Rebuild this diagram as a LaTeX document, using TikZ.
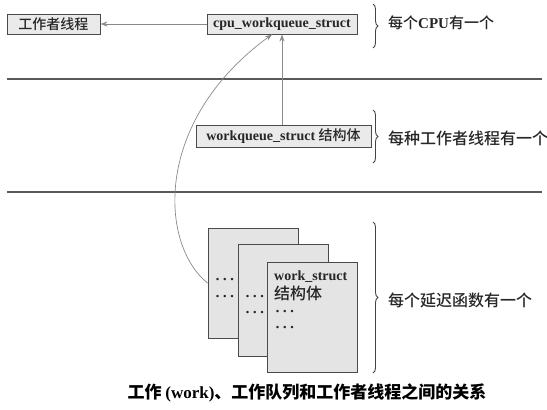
\documentclass[tikz,border=0pt]{standalone}
\usepackage{fontspec}
\setmainfont{Liberation Serif}
\newfontfamily\cjk{Noto Sans CJK SC}[BoldFont={Noto Sans CJK SC Medium}]
\newfontfamily\cjkheavy{Noto Sans CJK SC}
\usetikzlibrary{arrows.meta,decorations.pathreplacing}
\definecolor{boxfill}{HTML}{EAEAEA}
\definecolor{cardfill}{HTML}{E4E4E4}
\definecolor{boxline}{HTML}{4A4A4A}
\definecolor{conncol}{HTML}{8A8A8A}
\definecolor{sepcol}{HTML}{5A5A5A}
\definecolor{brcol}{HTML}{444444}
\definecolor{txt}{HTML}{262626}
\newcommand{\mydots}{\textperiodcentered\kern2.2pt\textperiodcentered\kern2.2pt\textperiodcentered}
\begin{document}
\begin{tikzpicture}[x=1pt,y=-1pt,
  box/.style={draw=boxline, fill=boxfill, line width=0.9pt, inner sep=0pt, text=txt,
    font=\fontsize{14}{16}\selectfont\bfseries},
  card/.style={draw=boxline, fill=cardfill, line width=0.9pt, minimum width=90pt,
    minimum height=110pt, inner sep=0pt},
  conn/.style={draw=conncol, line width=0.7pt, -{Stealth[length=7pt,width=5pt]}},
  sepline/.style={draw=sepcol, line width=1.1pt},
  brc/.style={draw=brcol, line width=0.9pt, decorate, decoration={brace, amplitude=5pt}},
  lab/.style={anchor=west, inner sep=0pt, text=txt, font=\fontsize{16}{18}\selectfont\bfseries},
  intext/.style={anchor=west, inner sep=0pt, text=txt, font=\fontsize{14}{16}\selectfont\bfseries},
  dotstext/.style={anchor=west, inner sep=0pt, text=txt, font=\fontsize{15}{16}\selectfont\bfseries},
  captext/.style={inner sep=0pt, text=black, font=\fontsize{17}{20}\selectfont\bfseries}
]
\useasboundingbox (0,0) rectangle (547,410);

% separators
\coordinate (s1a) at (7,79);  \coordinate (s1b) at (542,79);
\coordinate (s2a) at (7,192); \coordinate (s2b) at (542,192);
\draw[sepline] (s1a) -- (s1b);
\draw[sepline] (s2a) -- (s2b);

% top boxes
\node[box, minimum width=93pt, minimum height=20pt] (thr) at (53.5,24) {\cjk 工作者线程};
\node[box, minimum width=150pt, minimum height=20pt] (cpu) at (282,24) {cpu\_workqueue\_struct};
\node[box, minimum width=175pt, minimum height=22pt] (wq) at (283.5,136) {workqueue\_struct {\cjk 结构体}};

% cards
\node[card] (c1) at (253,283) {};
\node[card, minimum height=112pt] (c2) at (283,300) {};
\node[card] (c3) at (312,317) {};

\node[dotstext] (d11) at (215,281) {\mydots};
\node[dotstext] (d12) at (215,298) {\mydots};
\node[dotstext] (d21) at (245,298) {\mydots};
\node[dotstext] (d22) at (245,314) {\mydots};
\node[intext] (ws) at (274,277) {work\_struct};
\node[intext, font=\fontsize{16}{18}\selectfont\bfseries] (wsj) at (274,293) {\cjk 结构体};
\node[dotstext] (d31) at (275,313) {\mydots};
\node[dotstext] (d32) at (275,329) {\mydots};

% connectors
\draw[conn] (cpu.west) -- (thr.east);
\draw[conn] (wq.north -| cpu.south) -- (cpu.south);
\draw[conn] (c1.west) .. controls (160,245) and (152,122) .. ([xshift=-10pt]cpu.south);

% braces
\coordinate (b1t) at (373,4);   \coordinate (b1b) at (373,48);
\coordinate (b2t) at (373,110); \coordinate (b2b) at (373,163);
\coordinate (b3t) at (373,222); \coordinate (b3b) at (373,373);
\draw[brc] (b1t) -- (b1b);
\draw[brc] (b2t) -- (b2b);
\draw[brc] (b3t) -- (b3b);

\node[lab, font=\fontsize{15}{18}\selectfont\bfseries] (l1) at (388,23) {\cjk 每个{\rmfamily CPU}有一个};
\node[lab] (l2) at (388,138) {\cjk 每种工作者线程有一个};
\node[lab] (l3) at (388,300) {\cjk 每个延迟函数有一个};

% caption
\node[captext] (caption) at (307,393) {\cjkheavy 工作 {\rmfamily (work)}、工作队列和工作者线程之间的关系};
\end{tikzpicture}
\end{document}
